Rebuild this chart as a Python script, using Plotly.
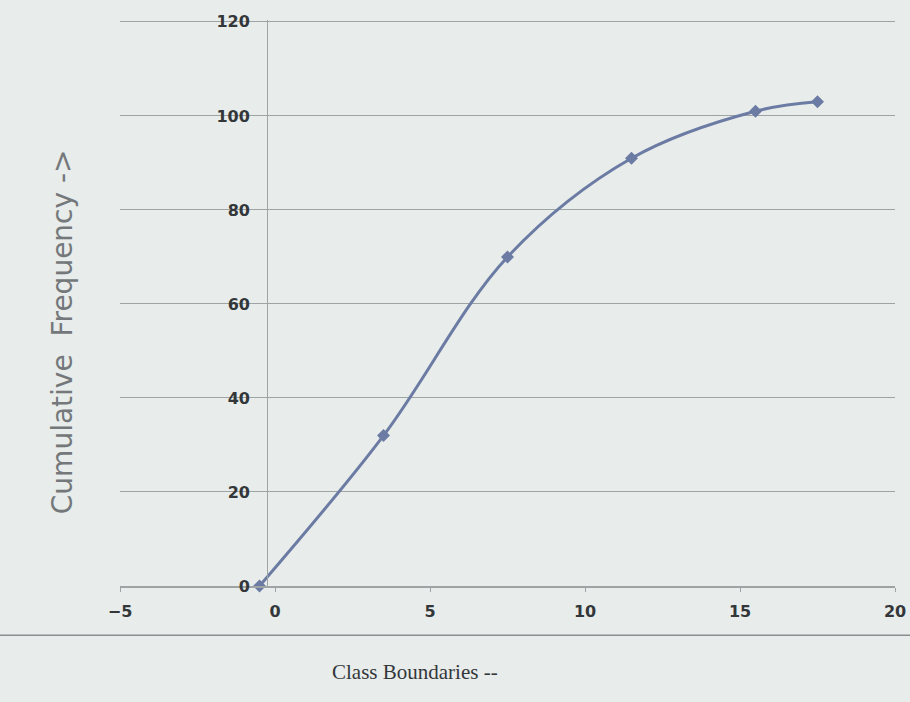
import plotly.graph_objects as go

# Class boundaries vs cumulative frequency
class_boundaries = [-0.5, 3.5, 7.5, 11.5, 15.5, 17.5]
cum_freq = [0, 32, 70, 91, 101, 103]

x_ticks = [-5, 0, 5, 10, 15, 20]
y_ticks = [0, 20, 40, 60, 80, 100, 120]

bg = "#e8ecea"
grid = "#9ea3a3"
line_col = "#6b7ba3"
tick_font = dict(family="DejaVu Sans", size=16, color="#33373a", weight="bold")

fig = go.Figure()
fig.add_trace(go.Scatter(
    x=class_boundaries, y=cum_freq, mode="lines+markers",
    line=dict(color=line_col, width=3, shape="spline", smoothing=1.0),
    marker=dict(symbol="diamond", size=10, color=line_col),
    cliponaxis=False, showlegend=False,
))

fig.update_layout(
    width=910, height=702,
    margin=dict(l=120, r=15, t=20, b=116),
    paper_bgcolor=bg, plot_bgcolor=bg,
    xaxis=dict(range=[-5, 20], tickvals=x_ticks, showgrid=False, zeroline=False,
               showline=True, linecolor=grid, linewidth=1.5, ticks="outside",
               ticklen=4, tickcolor=grid, tickfont=tick_font, ticklabelstandoff=6,
               automargin=False),
    yaxis=dict(range=[0, 120.4], tickvals=y_ticks, showgrid=True, gridcolor=grid,
               gridwidth=1.3, zeroline=False, showline=True, linecolor=grid,
               linewidth=1.3, anchor="free", position=0.19, ticks="",
               tickfont=tick_font, ticklabelstandoff=14, automargin=False),
    annotations=[
        dict(text="Cumulative  Frequency ->", xref="paper", yref="paper",
             x=-0.097, y=0.449, textangle=-90, showarrow=False,
             font=dict(family="DejaVu Sans", size=28, color="#74787b")),
        dict(text="Class Boundaries --", xref="paper", yref="paper",
             x=0.38, y=-0.152, showarrow=False, yanchor="middle",
             font=dict(family="Liberation Serif", size=21, color="#33373a")),
    ],
    shapes=[dict(type="line", xref="paper", yref="paper", x0=-0.16, x1=1.04,
                 y0=-0.087, y1=-0.087, line=dict(color="#8a8e90", width=1.5))],
)

# drop the default page margin so the figure sits at the window origin
fig.write_html("out.html", config={"displayModeBar": False},
               post_script="document.body.style.margin='0px';")
